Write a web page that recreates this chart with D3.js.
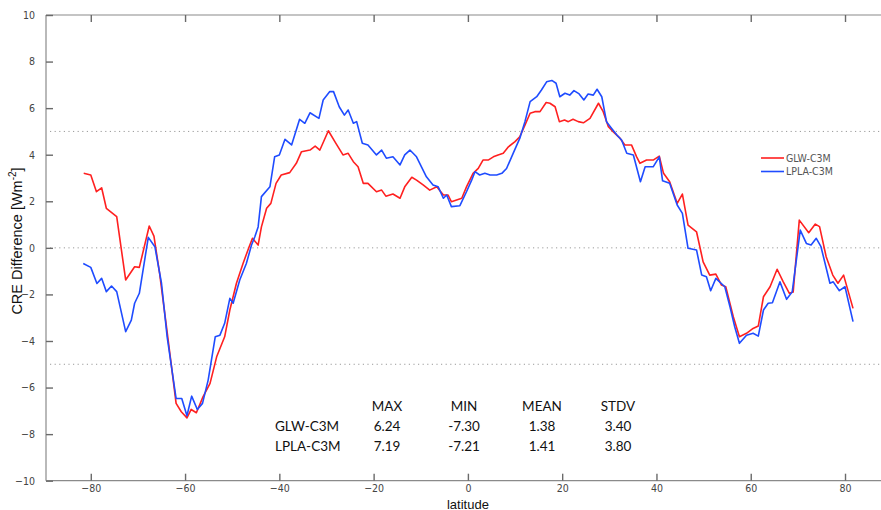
<!DOCTYPE html>
<html>
<head>
<meta charset="utf-8">
<script src="https://cdn.jsdelivr.net/npm/d3@7"></script>
<style>
  html, body { margin: 0; padding: 0; background: #fff; }
  svg { display: block; }
</style>
</head>
<body>
<svg id="chart" width="881" height="510"></svg>
<script>
// Zonal-mean CRE difference, two model configurations versus C3M
const glwLat = [-81.5,-80,-78.8,-77.7,-76.7,-74.5,-72.6,-70.7,-69.7,-67.6,-66.6,-65.4,-64,-63,-61.9,-60.8,-59.6,-58.7,-57.6,-56.2,-54.7,-53.3,-51.6,-50.5,-49.1,-47.7,-46.4,-45.7,-44.5,-43.8,-42.7,-41.8,-40.7,-39.6,-37.8,-36.4,-35.3,-33.5,-32.4,-31.4,-29.6,-28,-26.5,-25.4,-24.3,-23.3,-22.2,-21.2,-19.4,-18.3,-17.4,-15.9,-14.4,-13.4,-11.9,-10.9,-9.5,-8.1,-6.6,-5.2,-4.2,-3.5,-1.3,-0.3,1.1,2.2,3.2,4.3,5.4,6.4,7.5,8.6,10,11,12.1,13.2,14.2,15.3,16.6,17.4,18.5,19.4,20.5,21.3,22.3,23.4,24.5,25.9,27.7,28.7,29.8,30.8,32.3,33.3,34.7,35.8,36.5,37.9,39.3,40.6,41.5,42.8,44.4,45.5,46.7,48.5,49.9,51.3,52.6,53.8,54.7,56.3,57.6,59.1,60.5,61.6,62.7,64.1,65.6,66.9,68.2,69,70.3,72.3,73.7,74.6,76,77.4,78.5,79.7,81.7];
const glwVal = [3.2,3.13,2.41,2.58,1.7,1.34,-1.38,-0.81,-0.84,0.94,0.5,-1.1,-3.3,-4.9,-6.68,-7.04,-7.3,-6.94,-7.08,-6.4,-5.82,-4.68,-3.82,-2.67,-1.52,-0.67,0.05,0.41,0.12,0.9,1.7,1.91,2.77,3.13,3.23,3.63,4.13,4.2,4.37,4.2,5.03,4.49,3.99,4.06,3.7,3.48,2.77,2.77,2.41,2.48,2.22,2.31,2.13,2.62,3.03,2.91,2.7,2.48,2.62,2.27,2.27,1.98,2.13,2.62,3.2,3.41,3.77,3.77,3.91,3.99,4.06,4.34,4.56,4.77,5.27,5.78,5.85,5.85,6.24,6.21,6.06,5.42,5.49,5.42,5.52,5.42,5.37,5.56,6.21,5.85,5.2,4.99,4.7,4.42,4.42,3.91,3.63,3.77,3.77,3.94,3.2,2.84,1.91,2.31,0.98,0.69,-0.6,-1.17,-1.13,-1.6,-1.67,-2.96,-3.82,-3.67,-3.46,-3.36,-2.1,-1.67,-0.92,-1.46,-1.95,-1.9,1.19,0.65,1.02,0.91,-0.38,-1.17,-1.52,-1.17,-2.6];

const lplaLat = [-81.6,-80,-78.7,-77.7,-76.7,-75.6,-74.5,-72.6,-71.4,-70.7,-69.7,-67.8,-66.4,-65,-63.8,-61.9,-60.7,-59.6,-58.6,-57.4,-56.3,-55.1,-53.6,-52.6,-51.6,-50.5,-49.8,-48.4,-47,-45.9,-45.2,-44.5,-43.8,-42,-41,-40,-38.8,-37.4,-35.7,-34.6,-33.5,-31.6,-30.7,-29.3,-28.5,-27.3,-26.2,-25.4,-24.3,-23.6,-22.4,-21.2,-19.4,-18.3,-17.3,-15.9,-14.4,-13.4,-12.3,-10.9,-8.8,-7.4,-6.3,-5.2,-4.5,-3.5,-1.7,-0.3,0.8,1.5,2.5,3.6,4.7,6.1,7.2,8.2,9.6,11,12.1,13.2,14.6,15.6,16.7,17.8,18.7,19.5,20.6,21.6,22.5,23.6,24.6,25.5,26.6,27.4,28.4,29.4,30.5,31.6,32.6,33.7,35.1,36.6,37.6,39.3,40.6,41.3,42.8,44.4,45.5,46.7,48.5,49.6,50.6,51.5,52.6,54.5,55.6,56.6,57.6,59.1,60.5,61.6,62.7,63.7,64.6,66.2,67.6,68.8,70.5,71.8,72.8,73.9,74.9,76.8,77.5,78.8,80,81.7];
const lplaVal = [-0.67,-0.84,-1.53,-1.31,-1.88,-1.64,-1.88,-3.6,-3.1,-2.38,-1.95,0.45,0.05,-1.52,-3.82,-6.47,-6.47,-7.21,-6.37,-6.94,-6.68,-5.68,-3.82,-3.75,-3.24,-2.17,-2.38,-1.38,-0.67,0.12,0.48,0.9,2.2,2.62,3.91,3.99,4.66,4.42,5.52,5.35,5.8,5.56,6.35,6.71,6.71,6.06,5.7,5.92,5.35,5.42,4.49,4.42,3.99,4.2,3.85,3.91,3.56,3.99,4.2,3.91,3.05,2.7,2.62,2.13,2.27,1.77,1.81,2.41,2.91,3.27,3.13,3.2,3.13,3.13,3.2,3.41,4.06,4.7,5.42,6.28,6.49,6.78,7.13,7.19,7.07,6.49,6.64,6.56,6.75,6.61,6.35,6.61,6.56,6.81,6.49,5.42,5.13,4.85,4.63,4.06,3.99,2.84,3.48,3.48,3.91,2.88,2.77,1.84,1.48,-0.02,-0.09,-1.17,-1.24,-1.84,-1.31,-1.67,-2.53,-3.39,-4.1,-3.75,-3.67,-3.79,-2.67,-2.38,-2.36,-1.46,-2.21,-1.89,0.76,0.19,0.12,0.41,0.05,-1.52,-1.46,-1.84,-1.67,-3.17];

const seriesNames = ["GLW-C3M", "LPLA-C3M"];
const seriesColors = ["#ff2020", "#1f4cff"];

const xTicks = [-80, -60, -40, -20, 0, 20, 40, 60, 80];
const yTicks = [10, 8, 6, 4, 2, 0, -2, -4, -6, -8, -10];
const refLines = [5, 0, -5];

const statHeaders = ["MAX", "MIN", "MEAN", "STDV"];
const statRows = [
  { name: "GLW-C3M",  vals: ["6.24", "-7.30", "1.38", "3.40"] },
  { name: "LPLA-C3M", vals: ["7.19", "-7.21", "1.41", "3.80"] }
];

(function draw() {
  const svg = d3.select("#chart");
  const plotLeft = 46, plotTop = 15, plotBottom = 480.7;
  const x = d3.scaleLinear().domain([-89.5, 89.5]).range([plotLeft, 889.8]);
  const y = d3.scaleLinear().domain([-10, 10]).range([plotBottom, plotTop]);

  const tickFont = "'Liberation Sans Narrow', 'DejaVu Sans Condensed', 'Liberation Sans', sans-serif";
  const axisGray = "#8a8a8a";

  // dotted reference lines
  svg.append("g").selectAll("line").data(refLines).join("line")
    .attr("x1", plotLeft + 4).attr("x2", 881)
    .attr("y1", d => y(d)).attr("y2", d => y(d))
    .attr("stroke", "#9a9a9a").attr("stroke-width", 1)
    .attr("stroke-dasharray", "1.2,3.4");

  // frame: left, top, bottom
  const frame = svg.append("g").attr("stroke", axisGray).attr("stroke-width", 1.2).attr("fill", "none");
  frame.append("line").attr("x1", plotLeft).attr("x2", plotLeft).attr("y1", plotTop).attr("y2", plotBottom);
  frame.append("line").attr("x1", plotLeft).attr("x2", 881).attr("y1", plotTop).attr("y2", plotTop);
  frame.append("line").attr("x1", plotLeft).attr("x2", 881).attr("y1", plotBottom).attr("y2", plotBottom);

  // axes with inward ticks
  const yAxis = d3.axisLeft(y).tickValues(yTicks).tickSize(-7).tickPadding(11).tickFormat(d3.format("d"));
  const gy = svg.append("g").attr("transform", `translate(${plotLeft},0)`).call(yAxis);
  gy.select(".domain").remove();

  const xAxisB = d3.axisBottom(x).tickValues(xTicks).tickSize(-7).tickPadding(4).tickFormat(d3.format("d"));
  const gx = svg.append("g").attr("transform", `translate(0,${plotBottom})`).call(xAxisB);
  gx.select(".domain").remove();

  const xAxisT = d3.axisTop(x).tickValues(xTicks).tickSize(-7).tickFormat("");
  const gxt = svg.append("g").attr("transform", `translate(0,${plotTop})`).call(xAxisT);
  gxt.select(".domain").remove();

  [gy, gx, gxt].forEach(g => {
    g.selectAll(".tick line").attr("stroke", "#6a6a6a").attr("stroke-width", 1.4);
    g.selectAll(".tick text").attr("fill", "#444").style("font-family", tickFont).style("font-size", "10.5px");
  });

  // series lines
  const line = d3.line().x(d => x(d[0])).y(d => y(d[1]));
  const series = [
    d3.zip(glwLat, glwVal),
    d3.zip(lplaLat, lplaVal)
  ];
  svg.append("g").selectAll("path").data(series).join("path")
    .attr("d", line)
    .attr("fill", "none")
    .attr("stroke", (d, i) => seriesColors[i])
    .attr("stroke-width", 1.6)
    .attr("stroke-linejoin", "round");

  // legend
  const lg = svg.append("g").attr("transform", "translate(761,158)");
  seriesNames.forEach((n, i) => {
    const row = lg.append("g").attr("transform", `translate(0,${i * 13.5})`);
    row.append("line").attr("x1", 0).attr("x2", 23).attr("y1", 0).attr("y2", 0)
      .attr("stroke", seriesColors[i]).attr("stroke-width", 1.6);
    row.append("text").attr("x", 25).attr("y", 3.8).text(n)
      .attr("fill", "#555").style("font-family", tickFont).style("font-size", "10.5px");
  });

  // axis titles
  svg.append("text")
    .attr("transform", "translate(22,241) rotate(-90)")
    .attr("text-anchor", "middle")
    .style("font-family", "'Liberation Sans', Arial, sans-serif").style("font-size", "14.5px").attr("fill", "#111")
    .call(t => {
      t.append("tspan").text("CRE Difference [Wm");
      t.append("tspan").text("-2").attr("dy", -6).style("font-size", "10px");
      t.append("tspan").text("]").attr("dy", 6);
    });

  svg.append("text")
    .attr("x", x(0)).attr("y", 508.5)
    .attr("text-anchor", "middle")
    .style("font-family", "'Liberation Sans', Arial, sans-serif").style("font-size", "13px").attr("fill", "#111")
    .text("latitude");

  // statistics table
  const statFont = "Lato, 'Open Sans', sans-serif";
  const colX = [387, 464, 542, 618];
  const st = svg.append("g").style("font-family", statFont).style("font-size", "13.5px").attr("fill", "#111");
  statHeaders.forEach((h, i) => {
    st.append("text").attr("x", colX[i]).attr("y", 411).attr("text-anchor", "middle").text(h);
  });
  statRows.forEach((r, j) => {
    const yy = 431 + j * 20;
    st.append("text").attr("x", 275).attr("y", yy).text(r.name);
    r.vals.forEach((v, i) => {
      st.append("text").attr("x", colX[i]).attr("y", yy).attr("text-anchor", "middle").text(v);
    });
  });
})();
</script>
</body>
</html>
